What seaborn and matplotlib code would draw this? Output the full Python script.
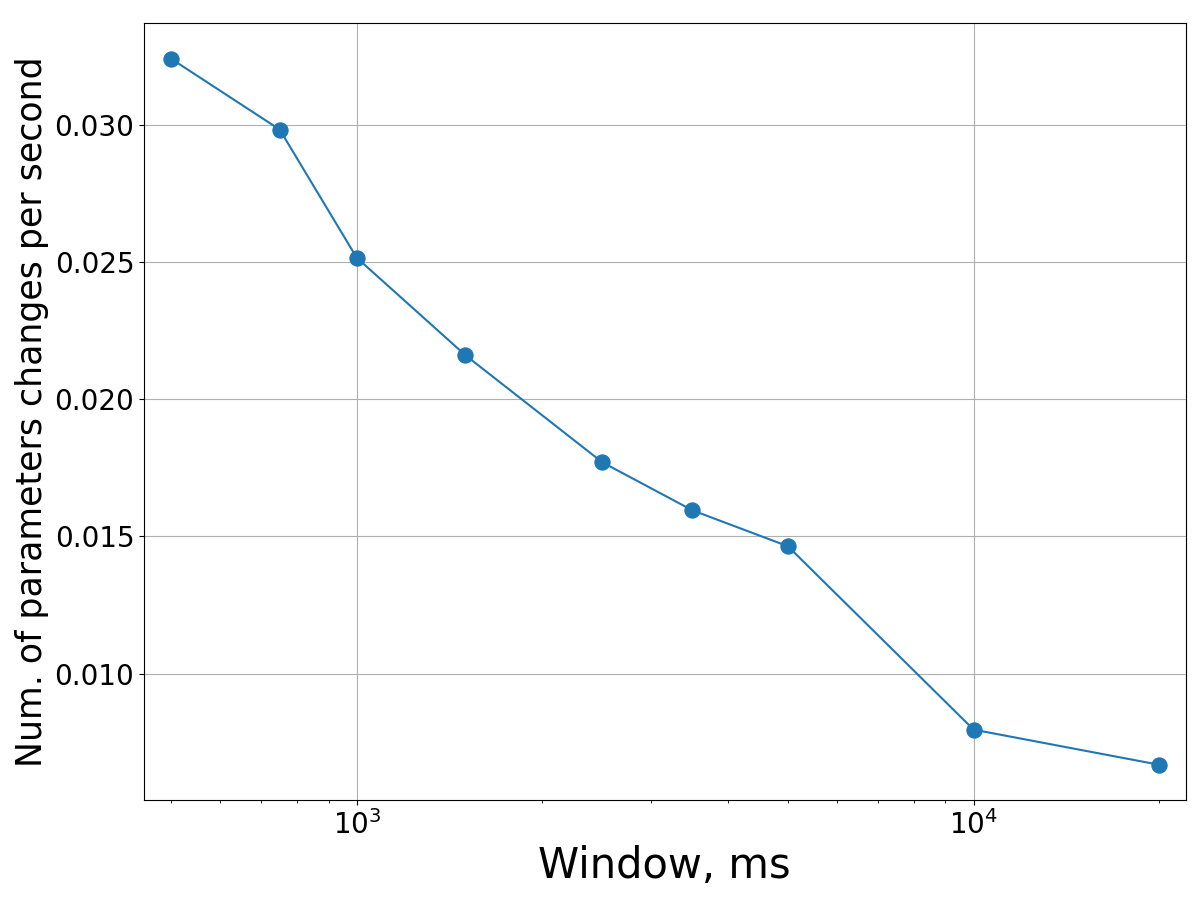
import matplotlib
matplotlib.use("Agg")
import matplotlib.pyplot as plt
import seaborn as sns
import pandas as pd

# window size (ms) vs. rate of parameter changes
window_ms = [500, 750, 1000, 1500, 2500, 3500, 5000, 10000, 20000]
changes_per_sec = [0.03240, 0.02982, 0.02515, 0.02160, 0.01770, 0.01595, 0.01464, 0.00796, 0.00668]

df = pd.DataFrame({"window": window_ms, "rate": changes_per_sec})

fig, ax = plt.subplots(figsize=(12, 9), dpi=100)
sns.lineplot(data=df, x="window", y="rate", marker="o", markersize=11,
             color="#1f77b4", markeredgecolor="#1f77b4", ax=ax)
ax.set_xscale("log")
ax.set_xlim(452, 22060)
ax.set_xlabel("Window, ms", fontsize=30)
ax.set_ylabel("Num. of parameters changes per second", fontsize=25)
ax.tick_params(axis="both", which="major", labelsize=20)
ax.grid(True)
fig.subplots_adjust(left=0.12, right=0.988, top=0.974, bottom=0.111)
plt.savefig("out.png")
